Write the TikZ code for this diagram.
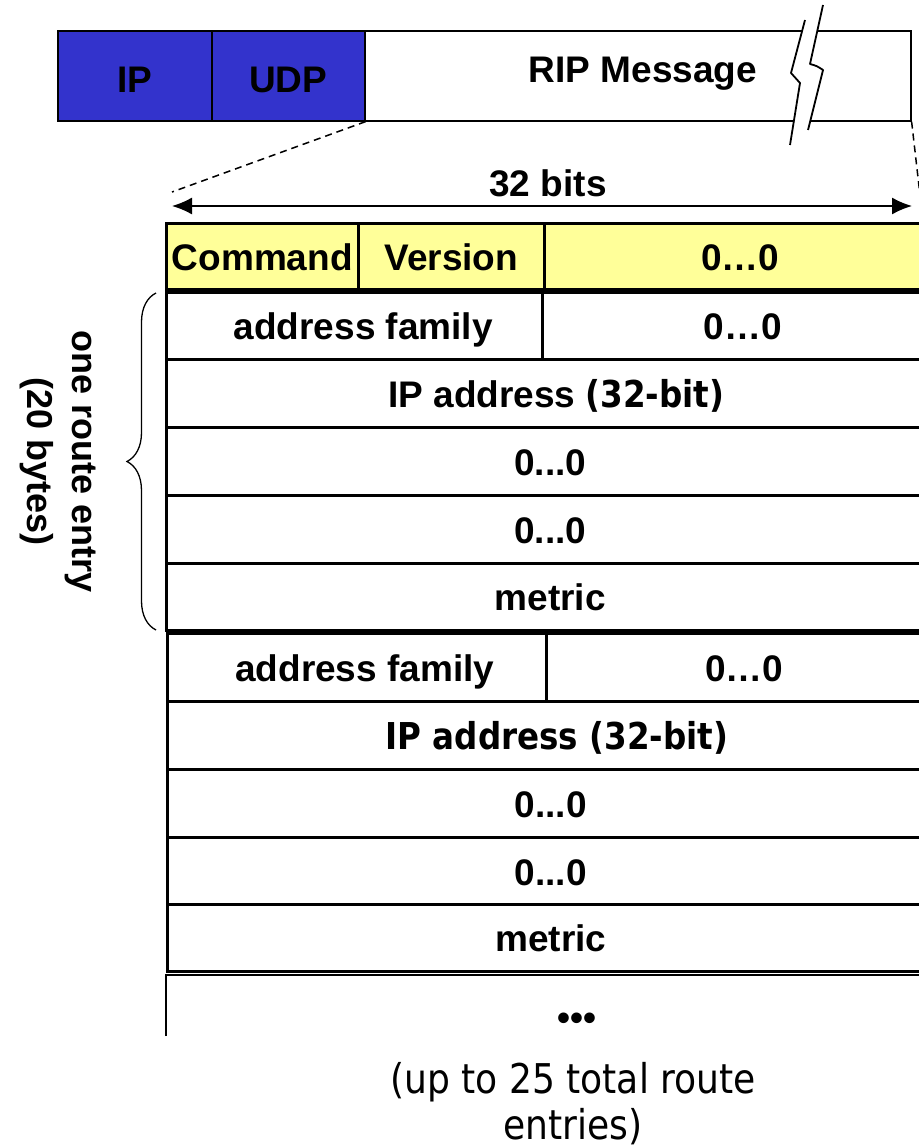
\documentclass[tikz,border=0pt]{standalone}
\usepackage{fontspec}
\setmainfont{Liberation Sans}
\newfontfamily\altfont[FakeStretch=0.88]{DejaVu Sans}
\usetikzlibrary{arrows.meta,decorations.pathreplacing}
\definecolor{udpblue}{HTML}{3333CC}
\definecolor{hdryellow}{HTML}{FFFF99}
\begin{document}
\begin{tikzpicture}[x=1pt,y=-1pt,
  cell/.style={draw=black, line width=2.6pt, anchor=north west, inner sep=0pt,
    text height=28pt, text depth=0pt,
    font=\fontsize{37}{44}\selectfont\bfseries, text=black},
  barcell/.style={cell, line width=1.6pt, minimum height=90pt, text height=34pt},
  hdr/.style={cell, fill=hdryellow, minimum height=66pt},
  row/.style={cell, fill=white, minimum height=68pt},
  lbl/.style={font=\fontsize{37}{44}\selectfont\bfseries, inner sep=0pt},
  dashline/.style={line width=1.5pt, dash pattern=on 7pt off 5pt},
  breakline/.style={line width=1.8pt, line join=round}]
\useasboundingbox (0,0) rectangle (918,1148);

% top bar
\node[barcell, fill=udpblue, minimum width=154pt] (ip) at (57,30) {IP};
\node[barcell, fill=udpblue, minimum width=153pt] (udp) at (211,30) {UDP};
\node[barcell, fill=white, minimum width=546pt] (rip) at (364,30) {};
\node[lbl] (ripl) at (643,74) {RIP Message};
% break mark
\fill[white] (805,20) -- (791,73) -- (800,83) -- (790,145) -- (808,130) -- (823,70) -- (810,64) -- (823,5) -- cycle;
\draw[breakline] (805,20) -- (791,73) .. controls (795,78) .. (800,83) -- (790,145);
\draw[breakline] (823,5) -- (810,64) .. controls (817,66) .. (823,70) -- (808,130);

% zoom lines
\coordinate (c1) at (172,192);
\coordinate (c2) at (920,195);
\draw[dashline] (udp.south east) -- (c1);
\draw[dashline] (rip.south east) -- (c2);

% 32 bits arrow
\coordinate (a1) at (172,206);
\coordinate (a2) at (912,206);
\draw[line width=1.6pt, {Latex[length=20pt,width=17pt]}-{Latex[length=20pt,width=17pt]}] (a1) -- (a2);
\node[lbl] (bits) at (548,183) {32 bits};

% header
\node[hdr, minimum width=192pt] (cmd) at (165,222) {Command};
\node[hdr, minimum width=186pt] (ver) at (357,222) {Version};
\node[hdr, minimum width=392pt] (hz) at (543,222) {0…0};

% entry 1
\node[row, minimum width=376pt, minimum height=67pt] (af1) at (165,291) {\hspace*{18pt}address family};
\node[row, minimum width=392pt, minimum height=67pt] (z1) at (541,291) {\hspace*{9pt}0…0};
\node[row, minimum width=768pt] (ipa1) at (165,358) {\hspace*{12pt}IP address {\altfont (32-bit)}};
\node[row, minimum width=768pt] (p1) at (165,426) {0...0};
\node[row, minimum width=768pt] (q1) at (165,494) {0...0};
\node[row, minimum width=768pt, minimum height=67pt] (m1) at (165,562) {metric};

% entry 2
\node[row, minimum width=379pt] (af2) at (166,632) {\hspace*{16pt}address family};
\node[row, minimum width=390pt] (z2) at (545,632) {\hspace*{6pt}0…0};
\node[row, minimum width=767pt] (ipa2) at (166,700) {\hspace*{12pt}{\altfont IP address (32-bit)}};
\node[row, minimum width=767pt] (p2) at (166,768) {0...0};
\node[row, minimum width=767pt] (q2) at (166,836) {0...0};
\node[row, minimum width=767pt, minimum height=67pt] (m2) at (166,903) {metric};

% more entries
\draw[line width=2.6pt] (166,1036) -- (166,975) -- (935,975);
\node[lbl] (dots) at (577,1022) {•••};

% note
\node[inner sep=0pt, align=center, font=\altfont\fontsize{41}{46}\selectfont] (note) at (573,1104)
  {(up to 25 total route\\entries)};

% brace
\coordinate (b1) at (156,630);
\coordinate (b2) at (156,293);
\draw[line width=1.3pt, decorate, decoration={brace, amplitude=29pt}] (b1) -- (b2);
\node[inner sep=0pt, rotate=-90, align=center, font=\fontsize{36}{45}\selectfont\bfseries] (entry) at (58,462)
  {one route entry\\(20 bytes)};
\end{tikzpicture}
\end{document}
